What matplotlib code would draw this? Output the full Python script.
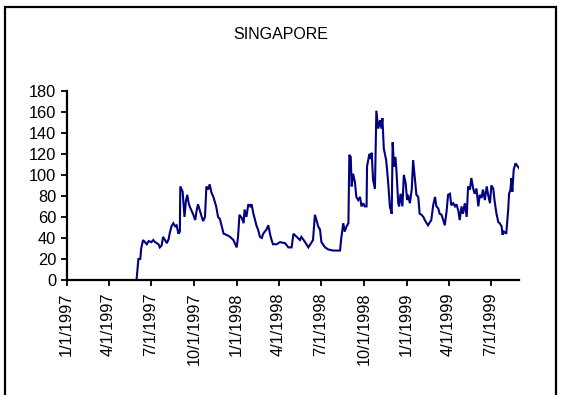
import numpy as np
import matplotlib
matplotlib.use("Agg")
import matplotlib.pyplot as plt
from matplotlib.lines import Line2D

plt.rcParams['font.family'] = ['Liberation Sans', 'DejaVu Sans']

title = "SINGAPORE"
base_date = np.datetime64("1997-01-01")

# days since 1997-01-01
day_offsets = [
    150, 154, 158, 160, 164, 168, 172, 176, 182, 186, 190, 197, 200, 204, 207, 211,
    215, 219, 221, 225, 229, 233, 236, 240, 243, 244, 249, 253, 256, 259, 261, 264,
    268, 272, 276, 279, 282, 286, 290, 293, 297, 300, 304, 307, 311, 315, 319, 321,
    325, 329, 333, 337, 343, 351, 358, 365, 368, 371, 376, 380, 382, 386, 390, 394,
    397, 401, 404, 408, 411, 415, 419, 422, 429, 433, 437, 440, 443, 451, 458, 469,
    476, 483, 487, 494, 501, 504, 512, 519, 526, 529, 533, 537, 540, 544, 547, 555,
    562, 572, 583, 587, 590, 594, 597, 601, 605, 607, 610, 612, 615, 619, 622, 626,
    630, 633, 637, 640, 644, 645, 650, 653, 655, 658, 662, 665, 669, 673, 676, 678,
    681, 686, 688, 691, 694, 698, 700, 703, 706, 708, 712, 714, 717, 719, 721, 724,
    728, 731, 733, 737, 741, 744, 748, 751, 755, 758, 762, 766, 769, 773, 776, 780,
    783, 787, 791, 794, 798, 801, 805, 808, 812, 816, 819, 823, 826, 830, 834, 837,
    841, 844, 848, 851, 855, 859, 862, 866, 869, 873, 876, 880, 884, 887, 891, 894,
    898, 902, 905, 909, 912, 916, 919, 923, 927, 930, 934, 936, 939, 944, 948, 950,
    953, 955, 957, 960, 964, 967, 972,
]

values = [
    0, 20, 20, 30, 38, 36, 34, 37, 36, 38, 36, 34, 31, 33, 41, 38,
    35, 39, 44, 51, 54, 51, 52, 44, 46, 89, 84, 60, 75, 81, 75, 70,
    66, 62, 57, 66, 72, 66, 60, 56, 60, 89, 86, 91, 83, 79, 73, 70,
    60, 58, 51, 44, 43, 41, 38, 31, 41, 62, 59, 54, 67, 60, 72, 70,
    72, 63, 58, 51, 48, 41, 40, 44, 48, 52, 43, 38, 34, 34, 36, 35,
    31, 31, 44, 41, 38, 41, 36, 31, 36, 38, 62, 56, 51, 48, 36, 31,
    29, 28, 28, 28, 41, 54, 46, 51, 54, 119, 117, 89, 101, 93, 79, 76,
    79, 70, 73, 70, 70, 108, 120, 115, 121, 95, 87, 161, 144, 152, 144, 154,
    125, 114, 105, 89, 70, 63, 131, 108, 117, 105, 73, 70, 82, 76, 70, 100,
    92, 76, 81, 73, 86, 114, 95, 81, 79, 63, 62, 60, 57, 54, 52, 55,
    57, 71, 79, 70, 68, 63, 62, 58, 52, 66, 81, 82, 71, 73, 70, 72,
    66, 57, 70, 63, 73, 60, 89, 86, 97, 87, 82, 87, 70, 81, 78, 86,
    76, 89, 81, 73, 90, 87, 75, 63, 55, 54, 51, 43, 46, 44, 66, 82,
    86, 97, 84, 105, 111, 109, 106,
]

tick_dates = ["1997-01-01", "1997-04-01", "1997-07-01", "1997-10-01",
              "1998-01-01", "1998-04-01", "1998-07-01", "1998-10-01",
              "1999-01-01", "1999-04-01", "1999-07-01"]
tick_labels = ["1/1/1997", "4/1/1997", "7/1/1997", "10/1/1997",
               "1/1/1998", "4/1/1998", "7/1/1998", "10/1/1998",
               "1/1/1999", "4/1/1999", "7/1/1999"]
y_ticks = [0, 20, 40, 60, 80, 100, 120, 140, 160, 180]

dates = base_date + np.array(day_offsets, dtype="timedelta64[D]")

W, H = 561, 395
fig = plt.figure(figsize=(W / 100, H / 100), dpi=100)
fig.patch.set_facecolor("white")

ax = fig.add_axes([66.7 / W, 1 - 280 / H, (519.3 - 66.7) / W, (280 - 90.7) / H])
ax.plot(dates, values, color="#000080", lw=1.5, solid_joinstyle="miter", zorder=2)

ax.set_xlim(base_date, dates[-1])
ax.set_ylim(0, 180)
ax.set_yticks(y_ticks)
ax.set_xticks(np.array(tick_dates, dtype="datetime64[D]"))
ax.set_xticklabels(tick_labels, rotation=90, fontsize=11.8)
ax.set_yticklabels([str(v) for v in y_ticks], fontsize=11.8)

for side in ("top", "right"):
    ax.spines[side].set_visible(False)
for side in ("left", "bottom"):
    ax.spines[side].set_linewidth(1.6)
    ax.spines[side].set_color("black")
    ax.spines[side].set_zorder(3)
ax.tick_params(axis="both", direction="out", length=4.5, width=1.3, colors="black")
ax.tick_params(axis="y", pad=3.2)
ax.tick_params(axis="x", pad=4.5)

fig.text(0.5, 1 - 39.3 / H, title, ha="center", va="baseline", fontsize=11.5)

# outer chart frame
fx = [4.5 / W, 4.5 / W, 556 / W, 556 / W]
fy = [-0.05, 1 - 6.5 / H, 1 - 6.5 / H, -0.05]
fig.add_artist(Line2D(fx, fy, transform=fig.transFigure, color="black", lw=1.6,
                      solid_joinstyle="miter"))

fig.savefig("out.png", dpi=100)
